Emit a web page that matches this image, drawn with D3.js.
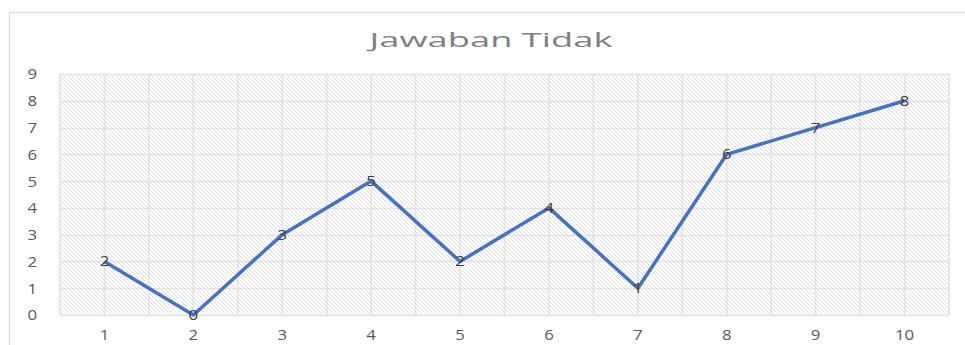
<!DOCTYPE html>
<html><head><meta charset="utf-8">
<script src="https://cdn.jsdelivr.net/npm/d3@7"></script>
<style>html,body{margin:0;padding:0;background:#fff;}svg{display:block;}</style>
</head><body>
<script>
const categories = ["1","2","3","4","5","6","7","8","9","10"];
const values = [2,0,3,5,2,4,1,6,7,8];
const yTicks = [0,1,2,3,4,5,6,7,8,9];
const title = "Jawaban Tidak";

const W = 965, H = 345;
const FONT = "'Open Sans', sans-serif";
const svg = d3.select("body").append("svg").attr("width", W).attr("height", H);
const defs = svg.append("defs");
const pat = defs.append("pattern").attr("id","hatch").attr("patternUnits","userSpaceOnUse")
  .attr("width",4).attr("height",4);
pat.append("rect").attr("width",4).attr("height",4).attr("fill","#fff");
pat.append("path").attr("d","M-1,-1 L5,5 M-1,3 L1,5 M3,-1 L5,1").attr("stroke","#dcdcdc").attr("stroke-width",0.9);

svg.append("rect").attr("x",9.5).attr("y",12.5).attr("width",970).attr("height",400)
  .attr("fill","#fff").attr("stroke","#d9d9d9").attr("stroke-width",1.2);

const L = 60, R = 949, T = 74, B = 315;
const x = d3.scaleBand().domain(categories).range([L,R]);
const y = d3.scaleLinear().domain([0,9]).range([B,T]);

svg.append("rect").attr("x",L).attr("y",T).attr("width",R-L).attr("height",B-T).attr("fill","url(#hatch)");

const g = svg.append("g");
g.selectAll("line.h").data(yTicks).enter().append("line")
  .attr("x1",L).attr("x2",R).attr("y1",d=>Math.round(y(d))+0.5).attr("y2",d=>Math.round(y(d))+0.5)
  .attr("stroke","#e2e2e2").attr("stroke-width",1.6);
const vx = [];
categories.forEach(c=>{vx.push(x(c)); vx.push(x(c)+x.bandwidth()/2);});
vx.push(R);
g.selectAll("line.v").data(vx).enter().append("line")
  .attr("x1",d=>d).attr("x2",d=>d).attr("y1",T).attr("y2",B)
  .attr("stroke","#e2e2e2").attr("stroke-width",1.6);

const yAxis = d3.axisLeft(y).tickValues(yTicks).tickSize(0).tickPadding(0);
const ya = svg.append("g").attr("transform",`translate(37,0)`).call(yAxis);
ya.select(".domain").remove();
ya.selectAll("text").attr("fill","#595959").attr("font-size",14).attr("font-family",FONT)
  .attr("dy","0.35em").attr("transform","scale(1.2,1)");

const xAxis = d3.axisBottom(x).tickSize(0).tickPadding(0);
const xa = svg.append("g").attr("transform",`translate(0,${B+15})`).call(xAxis);
xa.select(".domain").remove();
xa.selectAll("text").attr("fill","#595959").attr("font-size",14).attr("font-family",FONT)
  .attr("transform","scale(1.2,1)");

svg.append("text").attr("x",491).attr("y",47).attr("text-anchor","middle")
  .attr("fill","#7f7f7f").attr("font-size",20)
  .attr("textLength",243).attr("lengthAdjust","spacingAndGlyphs")
  .attr("font-family",FONT).text(title);

const line = d3.line().x((d,i)=>x(categories[i])+x.bandwidth()/2).y(d=>y(d));
svg.append("path").datum(values).attr("d",line).attr("fill","none")
  .attr("stroke","#4472C4").attr("stroke-width",3.5).attr("stroke-linejoin","round");

const lbl = svg.selectAll("g.lbl").data(values).enter().append("g")
  .attr("transform",(d,i)=>`translate(${x(categories[i])+x.bandwidth()/2},${y(d)})`);
lbl.append("text").attr("dy","0.36em").attr("text-anchor","middle").attr("fill","#404040")
  .attr("font-size",14).attr("font-family",FONT).attr("transform","scale(1.2,1)").text(d=>d);
</script>
</body></html>
